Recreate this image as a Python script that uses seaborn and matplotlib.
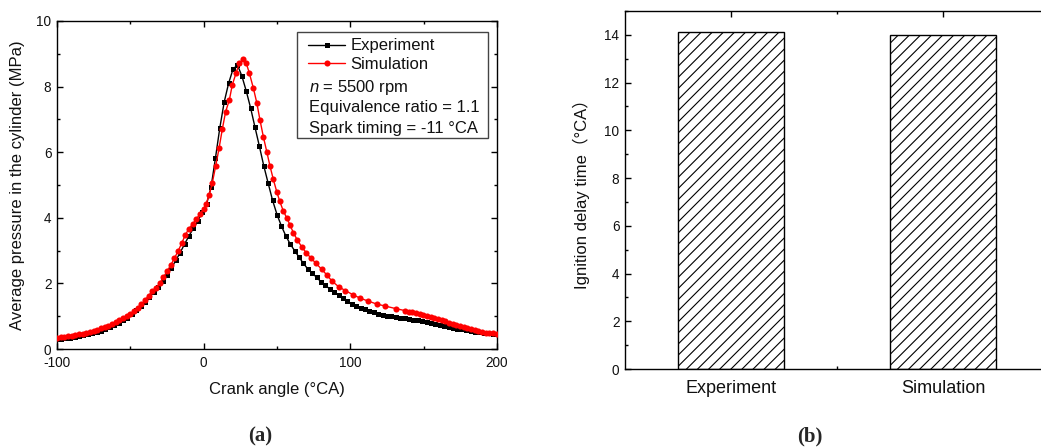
import numpy as np
import pandas as pd
import matplotlib
matplotlib.use("Agg")
import matplotlib.pyplot as plt
from matplotlib.ticker import MultipleLocator, FixedLocator
from matplotlib.patches import Rectangle
import seaborn as sns

# ---------------- data ----------------
exp_angle = [-100, -97, -94, -91, -88, -85, -82, -79, -76, -73, -70, -67, -64, -61, -58,
             -55, -52, -49, -46, -43, -40, -37, -34, -31, -28, -25, -22, -19, -16, -13,
             -10, -7, -4, -1, 2, 5, 8, 11, 14, 17, 20, 23, 26, 29, 32, 35, 38, 41, 44,
             47, 50, 53, 56, 59, 62, 65, 68, 71, 74, 77, 80, 83, 86, 89, 92, 95, 98,
             101, 104, 107, 110, 113, 116, 119, 122, 125, 128, 131, 134, 137, 140, 143,
             146, 149, 152, 155, 158, 161, 164, 167, 170, 173, 176, 179, 182, 185, 188,
             191, 194, 197, 200]
exp_pressure = [0.30, 0.32, 0.33, 0.35, 0.37, 0.39, 0.42, 0.45, 0.48, 0.52, 0.56, 0.61,
                0.66, 0.72, 0.79, 0.87, 0.96, 1.06, 1.18, 1.30, 1.44, 1.59, 1.74, 1.90,
                2.07, 2.26, 2.47, 2.70, 2.94, 3.20, 3.45, 3.68, 3.90, 4.18, 4.42, 4.93,
                5.81, 6.74, 7.53, 8.10, 8.53, 8.66, 8.33, 7.87, 7.35, 6.76, 6.18, 5.58,
                5.05, 4.53, 4.10, 3.75, 3.45, 3.20, 3.00, 2.80, 2.61, 2.44, 2.32, 2.18,
                2.05, 1.94, 1.83, 1.74, 1.64, 1.54, 1.45, 1.37, 1.31, 1.26, 1.21, 1.16,
                1.12, 1.07, 1.04, 1.02, 1.00, 0.97, 0.95, 0.93, 0.91, 0.89, 0.87, 0.85,
                0.83, 0.80, 0.77, 0.74, 0.71, 0.68, 0.65, 0.62, 0.60, 0.57, 0.55, 0.53,
                0.51, 0.50, 0.48, 0.47, 0.46]

sim_angle = [-100, -97.5, -95, -92.5, -90, -87.5, -85, -82.5, -80, -77.5, -75, -72.5, -70,
             -67.5, -65, -62.5, -60, -57.5, -55, -52.5, -50, -47.5, -45, -42.5, -40, -37.5,
             -35, -32.5, -30, -27.5, -25, -22.5, -20, -17.5, -15, -12.5, -10, -7.5, -5,
             -2.5, 0, 1.6, 3.8, 5.9, 8.2, 10.5, 12.7, 15.0, 17.5, 19.5, 22.0, 24.3, 26.6,
             28.9, 31.1, 33.9, 36.2, 38.4, 40.7, 43.0, 45.2, 47.5, 49.8, 51.9, 54.2, 56.6,
             58.9, 61.1, 63.9, 66.8, 69.8, 73.0, 76.6, 80.5, 83.9, 87.5, 92.0, 96.6, 101.6,
             106.6, 112.3, 118.0, 123.7, 131.1, 137.3, 139.8, 142.3, 144.8, 147.3, 149.8,
             152.3, 154.8, 157.3, 159.8, 162.3, 164.8, 167.3, 169.8, 172.3, 174.8, 177.3,
             179.8, 182.3, 184.8, 187.3, 189.8, 192.3, 194.8, 197.3, 200]
sim_pressure = [0.34, 0.36, 0.38, 0.40, 0.41, 0.43, 0.45, 0.47, 0.50, 0.53, 0.56, 0.59,
                0.63, 0.67, 0.71, 0.76, 0.81, 0.87, 0.93, 1.00, 1.07, 1.16, 1.26, 1.36,
                1.49, 1.63, 1.76, 1.87, 2.00, 2.18, 2.37, 2.55, 2.76, 2.98, 3.22, 3.48,
                3.67, 3.81, 3.96, 4.12, 4.27, 4.42, 4.70, 5.07, 5.58, 6.12, 6.70, 7.24,
                7.59, 8.05, 8.40, 8.71, 8.83, 8.73, 8.42, 7.95, 7.51, 6.98, 6.47, 6.02,
                5.58, 5.17, 4.80, 4.50, 4.22, 4.00, 3.78, 3.55, 3.32, 3.12, 2.94, 2.78,
                2.61, 2.43, 2.26, 2.07, 1.90, 1.78, 1.66, 1.55, 1.46, 1.37, 1.31, 1.23,
                1.17, 1.14, 1.12, 1.10, 1.07, 1.05, 1.02, 0.99, 0.95, 0.91, 0.88, 0.84,
                0.80, 0.77, 0.73, 0.70, 0.67, 0.63, 0.60, 0.57, 0.54, 0.52, 0.50, 0.49,
                0.48, 0.47]

bar_labels = ["Experiment", "Simulation"]
delay_values = [14.1, 14.0]

legend_notes = ["$n$ = 5500 rpm", "Equivalence ratio = 1.1", "Spark timing = -11 \u00b0CA"]

# ---------------- style ----------------
sns.set_theme(style="ticks")
plt.rcParams["font.family"] = ["Liberation Sans", "Noto Sans CJK SC", "DejaVu Sans"]
plt.rcParams["mathtext.fontset"] = "custom"
plt.rcParams["mathtext.it"] = "Liberation Sans:italic"
plt.rcParams["mathtext.rm"] = "Liberation Sans"
plt.rcParams["axes.unicode_minus"] = False
plt.rcParams["hatch.linewidth"] = 0.8
plt.rcParams["axes.linewidth"] = 1.0

W, H = 1041, 448
fig = plt.figure(figsize=(W / 100, H / 100), dpi=100)

def px_axes(left, right, top, bottom):
    return [left / W, (H - bottom) / H, (right - left) / W, (bottom - top) / H]

ax1 = fig.add_axes(px_axes(57, 497, 21, 349))
ax2 = fig.add_axes(px_axes(625, 1049, 11, 369))

# ---------------- panel (a) ----------------
df_exp = pd.DataFrame({"angle": exp_angle, "pressure": exp_pressure})
df_sim = pd.DataFrame({"angle": sim_angle, "pressure": sim_pressure})

sns.lineplot(data=df_exp, x="angle", y="pressure", ax=ax1, color="black", lw=1.0,
             marker="s", markersize=3.6, markeredgewidth=0, estimator=None, sort=False,
             label="Experiment", zorder=3)
sns.lineplot(data=df_sim, x="angle", y="pressure", ax=ax1, color="#ff0000", lw=1.0,
             marker="o", markersize=4.4, markeredgewidth=0, estimator=None, sort=False,
             label="Simulation", zorder=4)

ax1.set_xlim(-100, 200)
ax1.set_ylim(0, 10)
ax1.xaxis.set_major_locator(MultipleLocator(100))
ax1.xaxis.set_minor_locator(MultipleLocator(50))
ax1.yaxis.set_major_locator(MultipleLocator(2))
ax1.yaxis.set_minor_locator(MultipleLocator(1))
for ax in (ax1, ax2):
    ax.tick_params(which="both", direction="in", top=True, right=True, color="black",
                   width=1.0, labelsize=9.8, labelcolor="#111111")
    ax.tick_params(which="major", length=4.5, pad=4)
    ax.tick_params(which="minor", length=2.5)
    for s in ax.spines.values():
        s.set_color("black")
        s.set_linewidth(1.0)
ax1.tick_params(axis="x", which="major", pad=5)

ax1.set_xlabel("Crank angle (\u00b0CA)", fontsize=12, color="#111111")
ax1.set_ylabel("Average pressure in the cylinder (MPa)", fontsize=12, color="#111111")
ax1.xaxis.set_label_coords(0.5, -0.10)
ax1.yaxis.set_label_coords(-0.073, 0.5)

handles, labels = ax1.get_legend_handles_labels()
leg = ax1.legend(handles, labels, loc="upper left", bbox_to_anchor=(0.571, 0.947),
                 frameon=False, fontsize=12, handlelength=2.2, handletextpad=0.35,
                 borderpad=0, borderaxespad=0, labelspacing=0.22)
for t in leg.get_texts():
    t.set_color("#111111")

note_y = [0.797, 0.736, 0.672]
for txt, yy in zip(legend_notes, note_y):
    ax1.text(0.573, yy, txt, transform=ax1.transAxes, fontsize=12, va="center",
             ha="left", color="#111111")
ax1.add_patch(Rectangle((0.545, 0.643), 0.435, 0.323, transform=ax1.transAxes,
                        fill=False, edgecolor="#444444", lw=1.0, zorder=5))

# ---------------- panel (b) ----------------
df_bar = pd.DataFrame({"case": bar_labels, "delay": delay_values})
sns.barplot(data=df_bar, x="case", y="delay", ax=ax2, color="white", width=0.5,
            edgecolor="black", linewidth=1.0, hatch="///", errorbar=None, saturation=1)
ax2.set_xlim(-0.5, 1.5)
ax2.set_ylim(0, 15)
ax2.yaxis.set_major_locator(MultipleLocator(2))
ax2.yaxis.set_minor_locator(MultipleLocator(1))
ax2.xaxis.set_minor_locator(FixedLocator([0.5]))
ax2.tick_params(axis="x", which="major", labelsize=13, pad=8)
ax2.set_xlabel("")
ax2.set_ylabel("Ignition delay time\uff08\u00b0CA\uff09", fontsize=12, color="#111111")
ax2.yaxis.set_label_coords(-0.083, 0.5)

# ---------------- captions ----------------
fig.text(0.2498, 0.026, "(a)", fontsize=15, fontweight="bold", family="Liberation Serif",
         ha="center", va="center")
fig.text(0.778, 0.026, "(b)", fontsize=15, fontweight="bold", family="Liberation Serif",
         ha="center", va="center")

fig.savefig("out.png", dpi=100)
